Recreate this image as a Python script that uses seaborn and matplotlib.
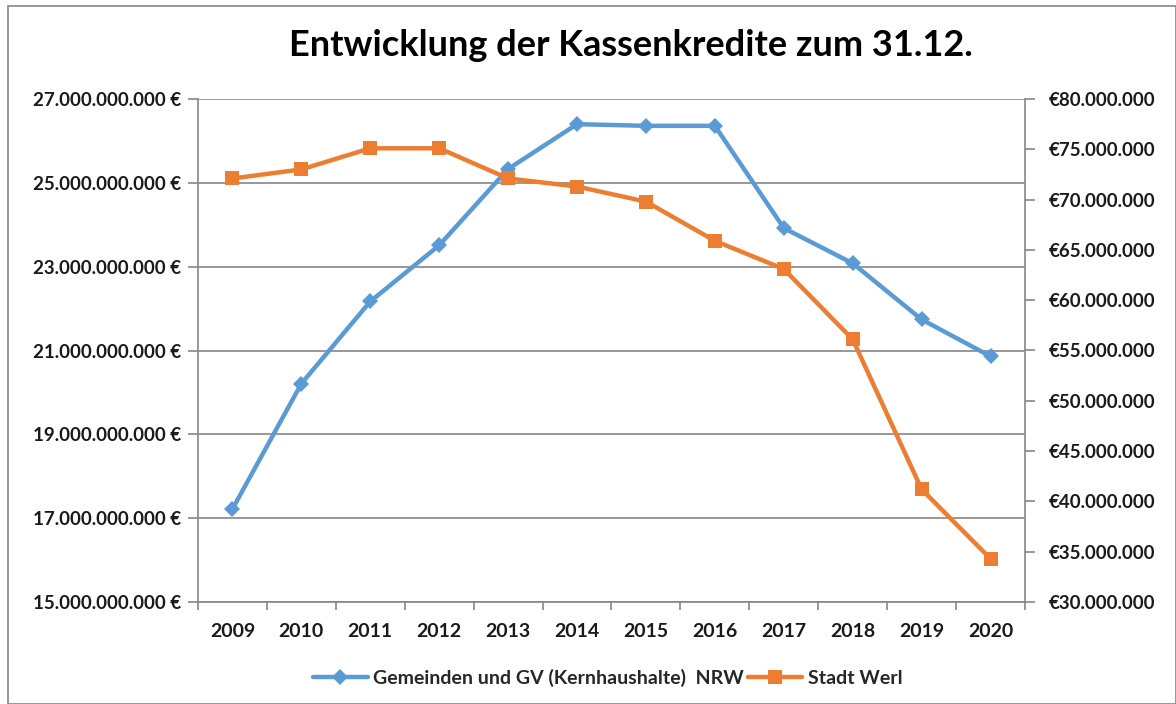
import matplotlib
matplotlib.use("Agg")
import matplotlib.pyplot as plt
import seaborn as sns
import pandas as pd
import numpy as np
from matplotlib.ticker import FuncFormatter, MultipleLocator, FixedLocator
from matplotlib.patches import Rectangle

years = [2009, 2010, 2011, 2012, 2013, 2014, 2015, 2016, 2017, 2018, 2019, 2020]
nrw = [17.22e9, 20.21e9, 22.17e9, 23.51e9, 25.33e9, 26.40e9, 26.36e9, 26.36e9,
       23.92e9, 23.08e9, 21.74e9, 20.86e9]
werl = [72.1e6, 73.0e6, 75.1e6, 75.1e6, 72.1e6, 71.3e6, 69.8e6, 65.9e6,
        63.1e6, 56.1e6, 41.2e6, 34.3e6]
left_ticks = [15e9, 17e9, 19e9, 21e9, 23e9, 25e9, 27e9]
label_nrw = "Gemeinden und GV (Kernhaushalte)  NRW"
label_werl = "Stadt Werl"
title = "Entwicklung der Kassenkredite zum 31.12."

sns.set_theme(style="white")
plt.rcParams['font.family'] = ['Lato', 'DejaVu Sans']

df = pd.DataFrame({"Jahr": years, "NRW": nrw, "Werl": werl})

fig = plt.figure(figsize=(11.76, 7.04), dpi=100)
W, H = 1176, 704
ax = fig.add_axes([198 / W, 1 - 602 / H, (1025 - 198) / W, (602 - 99) / H])
ax2 = ax.twinx()

blue = "#5B9BD5"
orange = "#ED7D31"
sns.lineplot(data=df, x="Jahr", y="NRW", ax=ax, color=blue, linewidth=3.2,
             marker="D", markersize=8, markeredgewidth=0, label=label_nrw, legend=False)
sns.lineplot(data=df, x="Jahr", y="Werl", ax=ax2, color=orange, linewidth=3.2,
             marker="s", markersize=10, markeredgewidth=0, label=label_werl, legend=False)

ax.set_xlim(years[0] - 0.5, years[-1] + 0.5)
ax.set_ylim(left_ticks[0], left_ticks[-1])
ax2.set_ylim(30e6, 80e6)
ax.yaxis.set_major_locator(FixedLocator(left_ticks))
ax2.yaxis.set_major_locator(MultipleLocator(5e6))

def de(v):
    return f"{int(round(v)):,}".replace(",", ".")

ax.yaxis.set_major_formatter(FuncFormatter(lambda v, p: de(v) + " €"))
ax2.yaxis.set_major_formatter(FuncFormatter(lambda v, p: "€" + de(v)))

ax.set_xticks(years)
ax.set_xticklabels([str(y) for y in years])
ax.xaxis.set_minor_locator(FixedLocator(np.arange(years[0] - 0.5, years[-1] + 1, 1)))
ax.tick_params(axis="x", which="major", length=0, pad=15, labelsize=14)
ax.tick_params(axis="x", which="minor", length=6, color="#868686", width=1.2, direction="out", bottom=True)
ax.tick_params(axis="y", length=7, color="#868686", width=1.2, direction="out", left=True, labelsize=13.5, pad=5)
ax2.tick_params(axis="y", length=7, color="#868686", width=1.2, direction="out", right=True, labelsize=13.5, pad=10)
for lab in ax.get_xticklabels() + ax.get_yticklabels() + ax2.get_yticklabels():
    lab.set_fontweight("bold")
    lab.set_color("#1a1a1a")

ax.set_xlabel("")
ax.set_ylabel("")
ax2.set_ylabel("")
ax.grid(axis="y", color="#868686", linewidth=1.2)
ax.set_axisbelow(True)
for a in (ax, ax2):
    a.spines["top"].set_visible(False)
    for s in ("left", "right", "bottom"):
        a.spines[s].set_color("#868686")
        a.spines[s].set_linewidth(1.2)
ax.spines["right"].set_visible(False)
ax2.spines["left"].set_visible(False)
ax2.spines["bottom"].set_visible(False)

fig.text(631 / W, 1 - 46 / H, title, ha="center", va="center", fontsize=26,
         fontweight="bold", color="#000000")

h1, l1 = ax.get_legend_handles_labels()
h2, l2 = ax2.get_legend_handles_labels()
fig.legend(h1 + h2, l1 + l2, loc="center", bbox_to_anchor=(608 / W, 1 - 678 / H),
           ncol=2, frameon=False, handlelength=2.8, handletextpad=0.3, columnspacing=0.2,
           prop={"weight": "bold", "size": 14})

fig.patches.append(Rectangle((8 / W, 0), 1 - 8 / W, 1 - 6 / H, transform=fig.transFigure,
                             fill=False, edgecolor="#868686", linewidth=1.2))

fig.savefig("out.png", dpi=100)
